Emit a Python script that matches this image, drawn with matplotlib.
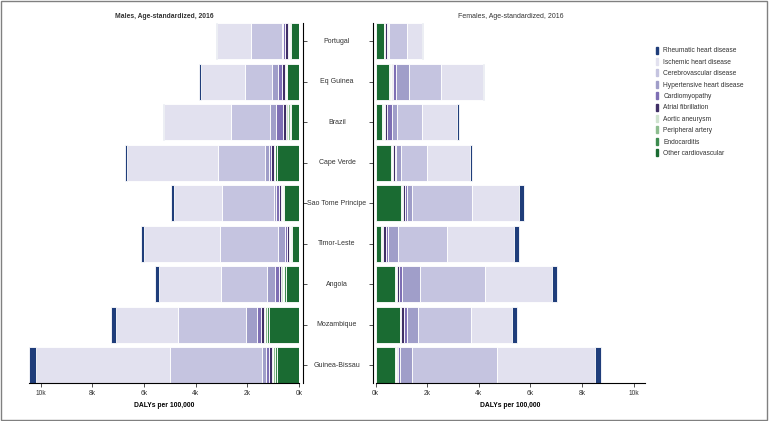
"""Cardiovascular DALYs by cause, males vs females, age-standardized 2016."""

import matplotlib
matplotlib.use("Agg")
import matplotlib.pyplot as plt
import matplotlib.patches as mpatches
from matplotlib.ticker import FuncFormatter

plt.rcParams.update({
    "font.family": ["Liberation Sans", "DejaVu Sans"],
    "font.size": 5,
    "text.color": "#333333",
    "xtick.color": "#333333",
    "ytick.color": "#333333",
})

countries = ["Portugal", "Eq Guinea", "Brazil", "Cape Verde", "Sao Tome Principe",
             "Timor-Leste", "Angola", "Mozambique", "Guinea-Bissau"]

# stacking order: from 0 outward
causes = ["Other cardiovascular", "Endocarditis", "Peripheral artery", "Aortic aneurysm",
          "Atrial fibrillation", "Cardiomyopathy", "Hypertensive heart disease",
          "Cerebrovascular disease", "Ischemic heart disease", "Rheumatic heart disease"]

# DALYs per 100,000 -- males
m_other = [320, 450, 320, 870, 580, 260, 490, 1170, 860]
m_endocard = [40, 30, 40, 40, 50, 40, 80, 70, 80]
m_peripheral = [40, 30, 50, 30, 40, 40, 60, 60, 60]
m_aortic = [40, 30, 100, 30, 40, 40, 80, 60, 60]
m_atrial = [90, 100, 90, 100, 70, 100, 70, 100, 100]
m_cardio = [100, 170, 300, 90, 100, 70, 160, 160, 130]
m_hyper = [40, 220, 240, 160, 90, 260, 300, 430, 130]
m_cerebro = [1170, 1060, 1500, 1810, 2010, 2240, 1780, 2640, 3590]
m_ischemic = [1340, 1720, 2570, 3520, 1850, 2950, 2410, 2400, 5180]
m_rheumatic = [50, 50, 70, 100, 120, 130, 160, 170, 250]

# DALYs per 100,000 -- females
f_other = [310, 520, 260, 590, 970, 210, 750, 940, 750]
f_endocard = [20, 40, 40, 30, 40, 30, 20, 20, 20]
f_peripheral = [20, 30, 30, 30, 30, 30, 20, 20, 20]
f_aortic = [20, 30, 30, 30, 30, 30, 20, 20, 20]
f_atrial = [60, 60, 70, 60, 70, 100, 90, 100, 60]
f_cardio = [30, 100, 220, 30, 60, 90, 130, 120, 60]
f_hyper = [60, 520, 190, 230, 190, 390, 690, 430, 490]
f_cerebro = [710, 1230, 970, 990, 2330, 1870, 2520, 2040, 3280]
f_ischemic = [560, 1610, 1360, 1680, 1830, 2610, 2580, 1610, 3810]
f_rheumatic = [60, 60, 60, 80, 190, 190, 220, 160, 210]

males = [m_other, m_endocard, m_peripheral, m_aortic, m_atrial, m_cardio,
         m_hyper, m_cerebro, m_ischemic, m_rheumatic]
females = [f_other, f_endocard, f_peripheral, f_aortic, f_atrial, f_cardio,
           f_hyper, f_cerebro, f_ischemic, f_rheumatic]

COLORS = ["#1a6b32", "#3d8b4f", "#8dbd8f", "#cfe3cf", "#3f2f66",
          "#7e6fb4", "#a09ec9", "#c5c4e0", "#e2e1ef", "#1f3d7a"]

W, H = 771, 421
fig = plt.figure(figsize=(W / 100, H / 100), dpi=100)
bottom = (H - 383.3) / H
height = (383.3 - 23.3) / H
ax_m = fig.add_axes([29 / W, bottom, 270 / W, height])
ax_f = fig.add_axes([375.7 / W, bottom, 269.6 / W, height])

ypos = list(range(len(countries)))
kfmt = FuncFormatter(lambda v, _: f"{v / 1000:.0f}k")


def stack(ax, series):
    left = [0] * len(countries)
    for vals, col in zip(series, COLORS):
        ax.barh(ypos, vals, left=left, height=0.89, color=col,
                edgecolor="white", linewidth=0.6)
        left = [a + b for a, b in zip(left, vals)]


stack(ax_m, males)
stack(ax_f, females)

for ax in (ax_m, ax_f):
    ax.set_ylim(len(countries) - 0.555, -0.445)
    ax.set_yticks(ypos)
    ax.set_yticklabels([])
    ax.set_xticks(range(0, 10001, 2000))
    ax.xaxis.set_major_formatter(kfmt)
    ax.tick_params(length=3, width=0.6, labelsize=4.8, pad=2)
    ax.spines["top"].set_visible(False)
    ax.set_xlabel("DALYs per 100,000", fontsize=4.9, fontweight="bold", labelpad=3.5)
    for s in ax.spines.values():
        s.set_linewidth(0.8)

ax_m.set_xlim(10450, 0)
ax_m.spines["left"].set_visible(False)
ax_m.spines["right"].set_position(("outward", 3))
ax_m.yaxis.tick_right()
ax_m.set_title("Males, Age-standardized, 2016", fontsize=4.9, fontweight="bold", pad=3.5)

ax_f.set_xlim(0, 10450)
ax_f.spines["right"].set_visible(False)
ax_f.spines["left"].set_position(("outward", 2))
ax_f.set_title("Females, Age-standardized, 2016", fontsize=5.0, pad=3.5)

# country names between the two panels
tr = matplotlib.transforms.blended_transform_factory(fig.transFigure, ax_m.transData)
for y, name in zip(ypos, countries):
    ax_m.text(337 / W, y, name, transform=tr, ha="center", va="center", fontsize=5)

handles = [mpatches.Patch(color=c, label=l) for c, l in zip(COLORS, causes)][::-1]
fig.legend(handles=handles, loc="upper left", bbox_to_anchor=(653 / W, 1 - 44 / H),
           frameon=False, fontsize=4.8, handlelength=0.35, handleheight=1.2,
           handletextpad=0.8, labelspacing=0.56, borderaxespad=0)

fig.patches.append(mpatches.Rectangle((1 / W, 1 / H), 766 / W, 419 / H,
                                      transform=fig.transFigure, fill=False,
                                      edgecolor="#808080", linewidth=1))

fig.savefig("out.png", dpi=100)
